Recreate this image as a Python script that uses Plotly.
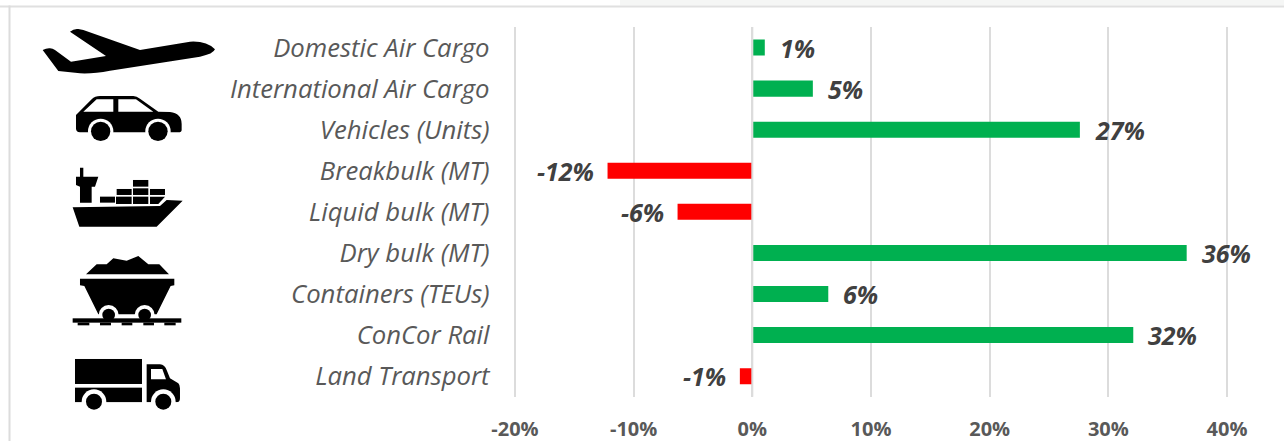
import base64
import plotly.graph_objects as go

categories = ["Domestic Air Cargo", "International Air Cargo", "Vehicles (Units)", "Breakbulk (MT)",
              "Liquid bulk (MT)", "Dry bulk (MT)", "Containers (TEUs)", "ConCor Rail", "Land Transport"]
values = [1.05, 5.1, 27.6, -12.2, -6.3, 36.6, 6.4, 32.1, -1.05]
labels = ["1%", "5%", "27%", "-12%", "-6%", "36%", "6%", "32%", "-1%"]
tick_values = [-20, -10, 0, 10, 20, 30, 40]
tick_labels = ["-20%", "-10%", "0%", "10%", "20%", "30%", "40%"]

GREEN, RED = "#00b050", "#ff0000"
W, H = 1284, 441

icons_top = """
<path d="M128 150 Q140 144 150 145 Q158 146 165 150 L213 185 L318 168 L210 95 Q222 85 235 87 L250 90 L420 150 L570 125 Q620 122 645 148 Q640 162 600 170 L330 212 Q280 222 240 220 L175 213 Z"/>
<path d="M228 345 L275 298 Q285 288 300 288 L400 288 Q410 288 420 296 L475 335 L510 336 Q545 340 545 372 L545 390 Q545 397 535 397 L240 397 Q228 397 228 385 Z"/>
<path fill="#fff" d="M250 335 L290 298 L340 298 L340 335 Z M355 298 L408 298 L460 335 L355 335 Z"/>
<circle cx="302" cy="394" r="38" fill="#fff"/><circle cx="474" cy="394" r="38" fill="#fff"/>
<circle cx="302" cy="394" r="29"/><circle cx="474" cy="394" r="29"/>
<path d="M240 503 L250 503 L250 530 L295 530 L285 560 L275 560 L275 608 L240 608 L240 560 L228 555 L228 530 L240 530 Z"/>
<rect x="300" y="590" width="45" height="18"/><rect x="348" y="590" width="47" height="22"/>
<rect x="399" y="590" width="46" height="22"/><path d="M450 590 L495 590 L475 612 L450 612 Z"/>
<rect x="350" y="567" width="45" height="18"/><rect x="399" y="565" width="46" height="20"/>
<rect x="450" y="567" width="45" height="18"/><rect x="399" y="540" width="46" height="20"/>
<path d="M218 622 L480 618 L500 600 L548 602 L470 680 L238 680 Z"/>
"""
icons_bottom = """
<path d="M258 163 L290 133 L320 133 L340 115 L380 122 L415 108 L445 133 L478 133 L507 163 Z"/>
<path d="M240 176 L523 176 L523 196 L512 198 L470 283 L295 283 L253 198 L240 196 Z"/>
<circle cx="326" cy="285" r="30" fill="#fff"/><circle cx="434" cy="285" r="30" fill="#fff"/>
<circle cx="326" cy="285" r="19"/><circle cx="434" cy="285" r="19"/>
<rect x="218" y="295" width="326" height="13"/>
<rect x="233" y="308" width="35" height="8"/><rect x="300" y="308" width="33" height="8"/>
<rect x="365" y="308" width="32" height="8"/><rect x="430" y="308" width="32" height="8"/>
<rect x="493" y="308" width="34" height="8"/>
<rect x="225" y="417" width="201" height="75"/><rect x="225" y="503" width="201" height="44"/>
<path d="M440 433 L480 433 Q495 435 500 450 L510 475 L535 490 Q540 495 540 505 L540 535 Q540 547 530 547 L440 547 Z"/>
<path fill="#fff" d="M453 447 L487 447 L498 478 L453 478 Z"/>
<circle cx="282" cy="545" r="37" fill="#fff"/><circle cx="490" cy="545" r="37" fill="#fff"/>
<rect x="225" y="547" width="320" height="25" fill="#fff"/>
<circle cx="282" cy="545" r="24"/><circle cx="490" cy="545" r="24"/>
"""
svg = (f'<svg xmlns="http://www.w3.org/2000/svg" width="{W}" height="{H}" viewBox="0 0 {W} {H}">'
       f'<g transform="scale(0.3333)">{icons_top}</g>'
       f'<g transform="translate(0 220) scale(0.3333)">{icons_bottom}</g></svg>')
uri = "data:image/svg+xml;base64," + base64.b64encode(svg.encode()).decode()

fig = go.Figure(go.Bar(
    y=categories, x=values, orientation="h",
    marker=dict(color=[GREEN if v >= 0 else RED for v in values], line=dict(width=0)),
    hoverinfo="skip", showlegend=False,
))

annotations = [
    dict(x=v, y=c, xref="x", yref="y", text=t, showarrow=False,
         xanchor="left" if v >= 0 else "right", xshift=13 if v >= 0 else -12, yshift=0,
         font=dict(family="Open Sans", size=25, color="#404040", weight="bold", style="italic"))
    for c, v, t in zip(categories, values, labels)
]

def px(x0, y0, x1, y1, **kw):
    return dict(type="rect", xref="paper", yref="paper", x0=x0 / W, x1=x1 / W,
                y0=1 - y1 / H, y1=1 - y0 / H, line=dict(width=0), layer="below", **kw)

zero_line = dict(type="line", xref="x", yref="paper", x0=0, x1=0, y0=1 - 396.7 / H, y1=1 - 27 / H,
                 line=dict(color="#dcdcdc", width=2), layer="above")

fig.update_layout(
    width=W, height=H, margin=dict(l=0, r=0, t=0, b=0),
    paper_bgcolor="#ffffff", plot_bgcolor="rgba(0,0,0,0)",
    font=dict(family="Open Sans"), bargap=0.61,
    xaxis=dict(domain=[512.6 / W, 1229.4 / W], range=[-20.2, 40.2], tickvals=tick_values, ticktext=tick_labels,
               showgrid=True, gridcolor="#dcdcdc", gridwidth=2, zeroline=True, zerolinecolor="#dcdcdc",
               zerolinewidth=2, showline=False, ticks="", ticklabelstandoff=18, automargin=False,
               tickfont=dict(family="Open Sans", size=20, color="#595959", weight="bold")),
    yaxis=dict(domain=[1 - 396.7 / H, 1 - 27 / H], autorange="reversed", type="category",
               categoryorder="array", categoryarray=categories, showgrid=False, showline=False, ticks="",
               ticklabelstandoff=22, automargin=False,
               tickfont=dict(family="Open Sans", size=25.7, color="#595959", style="italic")),
    annotations=annotations,
    shapes=[px(620, 0, W, 5.5, fillcolor="#f5f6f5"),
            px(0, 5.5, W, 7.5, fillcolor="#e0e0e0"),
            px(8.5, 5.5, 10.5, H, fillcolor="#dcdcdc"),
            zero_line],
    images=[dict(source=uri, xref="paper", yref="paper", x=0, y=1, sizex=1, sizey=1,
                 xanchor="left", yanchor="top", sizing="stretch", layer="above")],
)

fig.write_html("out.html", config={"displayModeBar": False},
               post_script="document.body.style.margin='0';document.body.style.overflow='hidden';")
